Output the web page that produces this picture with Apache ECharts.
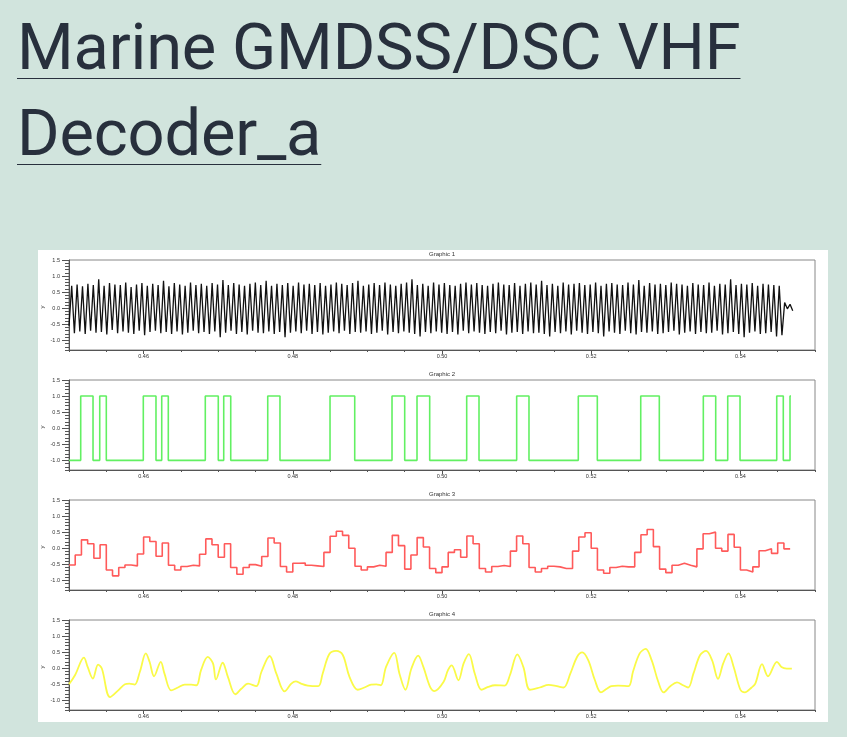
<!DOCTYPE html>
<html><head><meta charset="utf-8">
<script src="https://cdn.jsdelivr.net/npm/echarts@6/dist/echarts.min.js"></script>
<style>
html,body{margin:0;padding:0;background:#d1e4dd;width:847px;height:737px;overflow:hidden;}
h1{position:absolute;left:17px;top:4px;margin:0;font-family:Roboto,sans-serif;font-weight:400;font-size:65px;line-height:86px;color:#28303d;white-space:nowrap;letter-spacing:-0.2px;}
h1 span{text-decoration:underline;text-decoration-thickness:1px;text-underline-offset:9px;}
#chart{position:absolute;left:38px;top:250px;width:790px;height:472px;background:#fff;}
</style></head><body>
<h1><span>Marine GMDSS/DSC VHF</span><br><span>Decoder_a</span></h1>
<div id="chart"></div>
<script>
// ---- data ----
const xRange = [0.45, 0.55];
const yRange = [-1.3, 1.5];
const xTickLabels = [0.46, 0.48, 0.50, 0.52, 0.54];
const yTickLabels = [-1.0, -0.5, 0.0, 0.5, 1.0, 1.5];
const graphicTitles = ['Graphic 1', 'Graphic 2', 'Graphic 3', 'Graphic 4'];
const yAxisName = 'y';

// Graphic 1: FSK audio, extrema sampled uniformly
const wave1Start = 0.45, wave1Step = 0.000362;
const wave1Values = [
 -0.55, 0.70, -0.78, 0.74, -0.72, 0.68, -0.80, 0.76, -0.70, 0.72,
 -0.76, 0.90, -0.74, 0.70, -0.82, 0.78, -0.68, 0.74, -0.78, 0.72,
 -0.72, 0.80, -0.76, 0.66, -0.80, 0.74, -0.70, 0.78, -0.84, 0.70,
 -0.74, 0.76, -0.70, 0.72, -0.78, 0.85, -0.74, 0.68, -0.80, 0.78,
 -0.72, 0.74, -0.82, 0.70, -0.76, 0.80, -0.70, 0.72, -0.78, 0.76,
 -0.74, 0.70, -0.80, 0.78, -0.72, 0.74, -0.90, 0.88, -0.76, 0.72,
 -0.70, 0.78, -0.80, 0.74, -0.74, 0.70, -0.82, 0.76, -0.70, 0.80,
 -0.76, 0.72, -0.78, 0.85, -0.72, 0.70, -0.80, 0.76, -0.74, 0.72,
 -0.90, 0.78, -0.76, 0.70, -0.72, 0.80, -0.78, 0.74, -0.70, 0.76,
 -0.80, 0.72, -0.74, 0.78, -0.82, 0.70, -0.76, 0.74, -0.72, 0.80,
 -0.78, 0.76, -0.70, 0.72, -0.80, 0.78, -0.74, 0.85, -0.76, 0.70,
 -0.72, 0.74, -0.80, 0.78, -0.76, 0.72, -0.70, 0.80, -0.82, 0.74,
 -0.74, 0.70, -0.78, 0.76, -0.72, 0.80, -0.76, 0.90, -0.80, 0.72,
 -0.88, 0.76, -0.74, 0.70, -0.78, 0.80, -0.72, 0.74, -0.76, 0.78,
 -0.80, 0.72, -0.74, 0.70, -0.82, 0.76, -0.70, 0.80, -0.78, 0.74,
 -0.72, 0.78, -0.76, 0.72, -0.80, 0.70, -0.74, 0.76, -0.78, 0.80,
 -0.70, 0.74, -0.82, 0.72, -0.76, 0.78, -0.74, 0.70, -0.80, 0.76,
 -0.72, 0.80, -0.78, 0.74, -0.76, 0.85, -0.80, 0.72, -0.88, 0.76,
 -0.74, 0.70, -0.78, 0.80, -0.72, 0.74, -0.82, 0.76, -0.70, 0.78,
 -0.76, 0.72, -0.80, 0.74, -0.74, 0.80, -0.78, 0.70, -0.88, 0.76,
 -0.72, 0.78, -0.76, 0.74, -0.80, 0.72, -0.70, 0.80, -0.78, 0.74,
 -0.82, 0.88, -0.74, 0.70, -0.76, 0.78, -0.72, 0.74, -0.80, 0.76,
 -0.78, 0.72, -0.74, 0.80, -0.70, 0.76, -0.82, 0.74, -0.76, 0.70,
 -0.72, 0.78, -0.80, 0.74, -0.74, 0.72, -0.78, 0.80, -0.76, 0.70,
 -0.70, 0.76, -0.82, 0.74, -0.78, 0.90, -0.74, 0.72, -0.80, 0.76,
 -0.90, 0.74, -0.76, 0.78, -0.72, 0.70, -0.80, 0.76, -0.78, 0.74,
 -0.74, 0.72, -0.88, 0.70, -0.84, 0.18, -0.02, 0.12, -0.08
];

// Graphic 2: decoded bit stream (edge times and level after each edge)
const greenTimes = [0.45000, 0.45157, 0.45322, 0.45412, 0.45500, 0.45996, 0.46166, 0.46243, 0.46331,
  0.46827, 0.47001, 0.47074, 0.47168, 0.47664, 0.47828, 0.48499, 0.48830, 0.49330, 0.49500,
  0.49665, 0.49835, 0.50331, 0.50496, 0.51001, 0.51166, 0.51827, 0.52082, 0.52664, 0.52913,
  0.53503, 0.53669, 0.53830, 0.53995, 0.54487, 0.54575, 0.54665, 0.54678];
const greenLevels = [-1, 1, -1, 1, -1, 1, -1, 1, -1,
  1, -1, 1, -1, 1, -1, 1, -1, 1, -1,
  1, -1, 1, -1, 1, -1, 1, -1, 1, -1,
  1, -1, 1, -1, 1, -1, 1, 1];

// Graphic 3: stepped filter output, one level per 1/1200 s
const redStart = 0.45, redStep = 1 / 1200;
const redLevels = [
 -0.52, -0.21, 0.26, 0.14, -0.31, 0.11, -0.68, -0.86, -0.60, -0.52,
 -0.55, -0.18, 0.35, 0.21, -0.25, 0.16, -0.53, -0.68, -0.57, -0.53,
 -0.55, -0.19, 0.29, 0.11, -0.28, 0.14, -0.60, -0.81, -0.60, -0.51,
 -0.56, -0.26, 0.32, 0.16, -0.57, -0.74, -0.47, -0.46, -0.53, -0.55,
 -0.57, -0.13, 0.37, 0.53, 0.40, 0.00, -0.56, -0.68, -0.58, -0.53,
 -0.56, -0.13, 0.40, 0.08, -0.65, -0.21, 0.33, 0.04, -0.63, -0.76,
 -0.58, -0.13, -0.05, -0.28, 0.38, 0.14, -0.63, -0.74, -0.57, -0.54,
 -0.57, -0.09, 0.38, 0.14, -0.60, -0.74, -0.63, -0.56, -0.58, -0.63,
 -0.63, -0.09, 0.35, 0.48, 0.00, -0.68, -0.78, -0.60, -0.56, -0.58,
 -0.58, -0.13, 0.42, 0.58, 0.05, -0.65, -0.76, -0.53, -0.47, -0.53,
 -0.58, -0.02, 0.45, 0.50, 0.00, -0.09, 0.43, 0.03, -0.68, -0.74,
 -0.58, -0.08, -0.02, -0.16, 0.16, -0.02
];

// Graphic 4: smoothed output, key points [t, y]
const yellowPoints = [
 [0.4500,-0.50],[0.4508,-0.22],[0.4520,0.33],[0.4525,0.04],[0.4532,-0.32],[0.4539,0.11],[0.4544,-0.01],
 [0.4555,-0.90],[0.4566,-0.69],[0.4575,-0.50],[0.4581,-0.48],[0.4588,-0.51],[0.4595,-0.11],[0.4603,0.46],
 [0.4608,0.20],[0.4614,-0.25],[0.4623,0.20],[0.4628,-0.17],[0.4637,-0.69],[0.4646,-0.60],[0.4655,-0.51],
 [0.4664,-0.51],[0.4671,-0.53],[0.4677,-0.06],[0.4686,0.35],[0.4693,0.15],[0.4697,-0.35],[0.4706,0.17],
 [0.4713,-0.27],[0.4723,-0.81],[0.4731,-0.64],[0.4740,-0.48],[0.4751,-0.56],[0.4758,-0.11],[0.4769,0.38],
 [0.4778,-0.17],[0.4789,-0.72],[0.4798,-0.48],[0.4804,-0.41],[0.4811,-0.48],[0.4820,-0.54],[0.4834,-0.56],
 [0.4840,-0.17],[0.4849,0.44],[0.4858,0.54],[0.4867,0.41],[0.4876,-0.27],[0.4887,-0.67],[0.4896,-0.60],
 [0.4905,-0.51],[0.4912,-0.50],[0.4918,-0.53],[0.4925,0.04],[0.4936,0.48],[0.4943,-0.17],[0.4951,-0.67],
 [0.4959,-0.01],[0.4968,0.39],[0.4975,0.04],[0.4984,-0.58],[0.4990,-0.71],[0.5002,-0.43],[0.5008,-0.06],
 [0.5013,0.09],[0.5022,-0.375],[0.5029,0.15],[0.5036,0.44],[0.5044,-0.17],[0.5053,-0.67],[0.5062,-0.58],
 [0.5071,-0.53],[0.5084,-0.54],[0.5091,-0.22],[0.5101,0.43],[0.5109,0.04],[0.5118,-0.67],[0.5131,-0.60],
 [0.5143,-0.52],[0.5154,-0.56],[0.5163,-0.60],[0.5172,-0.17],[0.5181,0.35],[0.5188,0.49],[0.5196,0.25],
 [0.5205,-0.375],[0.5213,-0.75],[0.5221,-0.64],[0.5227,-0.56],[0.5236,-0.54],[0.5250,-0.56],[0.5256,-0.11],
 [0.5265,0.46],[0.5273,0.60],[0.5281,0.25],[0.5290,-0.43],[0.5297,-0.75],[0.5306,-0.56],[0.5315,-0.44],
 [0.5323,-0.53],[0.5330,-0.60],[0.5337,-0.17],[0.5346,0.41],[0.5354,0.54],[0.5362,0.25],[0.5370,-0.33],
 [0.5377,0.15],[0.5384,0.46],[0.5391,0.04],[0.5400,-0.67],[0.5406,-0.75],[0.5415,-0.60],[0.5420,-0.48],
 [0.5429,0.125],[0.5437,-0.25],[0.5449,0.20],[0.5455,0.04],[0.5462,-0.01],[0.5469,-0.01]
];

// ---- build ----
const wave1Data = wave1Values.map((v, i) => [wave1Start + i * wave1Step, v]);
const greenData = greenTimes.map((t, i) => [t, greenLevels[i]]);
const redData = redLevels.map((v, i) => [redStart + i * redStep, v]);
redData.push([redStart + redLevels.length * redStep, redLevels[redLevels.length - 1]]);

const xMinor = []; for (let k = 0; k <= 20; k++) xMinor.push(+(0.45 + k * 0.005).toFixed(3));
const yMinor = []; for (let k = 0; k <= 28; k++) yMinor.push(+(-1.3 + k * 0.1).toFixed(1));

const FONT = 'Liberation Sans, Arial, sans-serif';
const gridTops = [10, 130, 250, 370];
const GL = 31, GW = 746, GH = 90;
const AX = '#555';

const grids = [], xAxes = [], yAxes = [], graphics = [];
gridTops.forEach((top, i) => {
  grids.push({left: GL, top: top, width: GW, height: GH, show: true, borderColor: '#888', borderWidth: 1, backgroundColor: '#fff'});
  xAxes.push({gridIndex: i, type: 'value', position: 'bottom', min: xRange[0], max: xRange[1],
    axisLine: {show: true, onZero: false, lineStyle: {color: AX, width: 1}},
    axisTick: {show: true, customValues: xTickLabels, length: 4, lineStyle: {color: AX}},
    axisLabel: {show: true, customValues: xTickLabels, formatter: v => v.toFixed(2), fontSize: 5.5, margin: 3, color: '#333', fontFamily: FONT},
    splitLine: {show: false}});
  xAxes.push({gridIndex: i, type: 'value', position: 'bottom', min: xRange[0], max: xRange[1],
    axisLine: {show: false, onZero: false},
    axisTick: {show: true, customValues: xMinor, length: 2, lineStyle: {color: AX}},
    axisLabel: {show: false}, splitLine: {show: false}});
  yAxes.push({gridIndex: i, type: 'value', position: 'left', min: yRange[0], max: yRange[1],
    axisLine: {show: true, onZero: false, lineStyle: {color: AX, width: 1}},
    axisTick: {show: true, customValues: yTickLabels, length: 7, lineStyle: {color: AX}},
    axisLabel: {show: true, customValues: yTickLabels, formatter: v => v.toFixed(1), fontSize: 5.5, margin: 9, color: '#333', fontFamily: FONT},
    splitLine: {show: false}});
  yAxes.push({gridIndex: i, type: 'value', position: 'left', min: yRange[0], max: yRange[1],
    axisLine: {show: false, onZero: false},
    axisTick: {show: true, customValues: yMinor, length: 4, lineStyle: {color: AX}},
    axisLabel: {show: false}, splitLine: {show: false}});
  graphics.push({type: 'text', x: GL + GW / 2, y: top - 9,
    style: {text: graphicTitles[i], fontSize: 6, fill: '#333', fontFamily: FONT, textAlign: 'center'}});
  graphics.push({type: 'text', x: 4, y: top + GH / 2 + 2, rotation: Math.PI / 2,
    style: {text: yAxisName, fontSize: 6, fill: '#333', fontFamily: FONT, textAlign: 'center', textVerticalAlign: 'middle'}});
});

const mk = (i, data, color, width, extra) => Object.assign({
  type: 'line', xAxisIndex: 2 * i, yAxisIndex: 2 * i, data: data, symbol: 'none', showSymbol: false,
  lineStyle: {color: color, width: width}, itemStyle: {color: color}, animation: false, silent: true
}, extra || {});

const chart = echarts.init(document.getElementById('chart'));
chart.setOption({
  animation: false,
  backgroundColor: '#fff',
  grid: grids, xAxis: xAxes, yAxis: yAxes, graphic: graphics,
  series: [
    mk(0, wave1Data, '#111111', 1.3),
    mk(1, greenData, '#62f062', 1.6, {step: 'end'}),
    mk(2, redData, '#ff5a5a', 1.6, {step: 'end'}),
    mk(3, yellowPoints, '#fafa48', 1.8, {smooth: 0.35})
  ]
});
</script></body></html>
